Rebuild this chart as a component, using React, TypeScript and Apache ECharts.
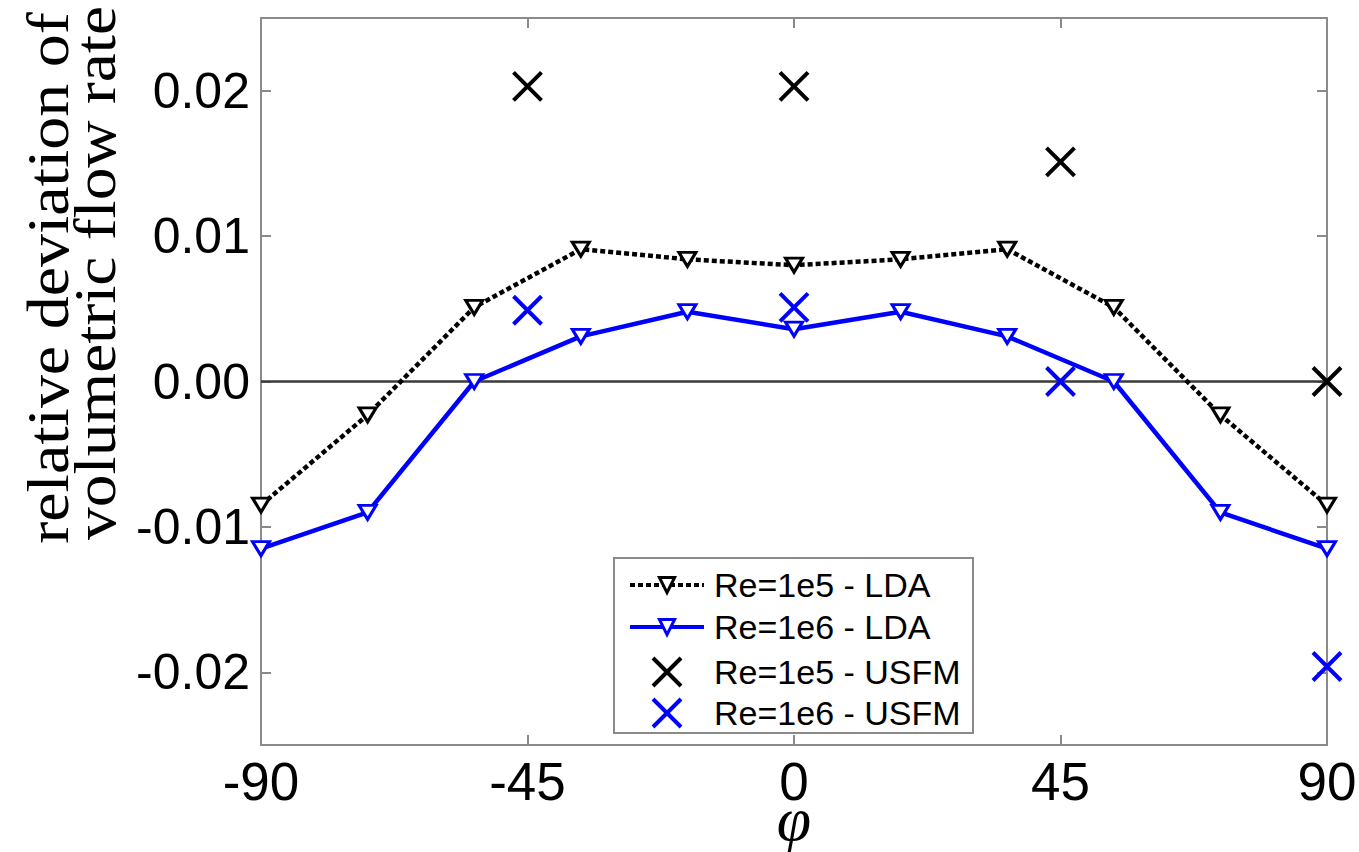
import React, { useEffect, useRef } from "react";
import * as echarts from "echarts";

const angles = [-90, -72, -54, -36, -18, 0, 18, 36, 54, 72, 90];
const ldaRe1e5 = [-0.0085, -0.0023, 0.0051, 0.0091, 0.0084, 0.008, 0.0084, 0.0091, 0.0051, -0.0023, -0.0085];
const ldaRe1e6 = [-0.0115, -0.009, 0.0, 0.0031, 0.0048, 0.0036, 0.0048, 0.0031, 0.0, -0.009, -0.0115];
const usfmAngles = [-45, 0, 45, 90];
const usfmRe1e5 = [0.0203, 0.0203, 0.0151, 0.0];
const usfmRe1e6 = [0.0049, 0.0051, 0.0, -0.0196];
const yTicks = [-0.02, -0.01, 0, 0.01, 0.02];
const names = ["Re=1e5 - LDA", "Re=1e6 - LDA", "Re=1e5 - USFM", "Re=1e6 - USFM"];

const FRAME = "#8a8a8a";
const CROSS = "path://M0,0L20,20M20,0L0,20";
// same cross, padded with zero-length segments so the legend icon keeps its 74x28 slot
const CROSS_LEGEND = "path://M-16.43,10L-16.43,10M0,0L20,20M20,0L0,20M36.43,10L36.43,10";

const pairs = (xs: number[], ys: number[]) => xs.map((x, i) => [x, ys[i]]);

export default function App() {
  const ref = useRef<HTMLDivElement>(null);
  useEffect(() => {
    if (!ref.current) return;
    const chart = echarts.init(ref.current, null, { renderer: "svg" });
    const axisLine = { show: true, onZero: false, lineStyle: { color: FRAME, width: 2 } };
    const axisTick = { show: true, inside: true, length: 10, lineStyle: { color: FRAME, width: 2 } };
    const legendText = { fontSize: 34, fontFamily: "Liberation Sans", color: "#000", lineHeight: 40, padding: [0, 0, 0, 5] };
    const option: any = {
      animation: false,
      backgroundColor: "#fff",
      grid: { left: 261, right: 32, top: 18, bottom: 107, containLabel: false, outerBoundsMode: "none" },
      xAxis: [
        {
          type: "value", min: -90, max: 90, interval: 45, position: "bottom",
          axisLine, axisTick,
          axisLabel: { color: "#000", fontSize: 53, lineHeight: 44, fontFamily: "Liberation Sans", margin: 14 },
          splitLine: { show: false },
          name: "φ", nameLocation: "middle", nameGap: 59, nameMoveOverlap: false,
          nameTextStyle: { color: "#000", fontSize: 62, lineHeight: 30, fontFamily: "Liberation Serif", fontStyle: "italic" },
        },
        {
          type: "value", min: -90, max: 90, interval: 45, position: "top",
          axisLine, axisTick, axisLabel: { show: false }, splitLine: { show: false },
        },
      ],
      yAxis: [
        {
          type: "value", min: -0.025, max: 0.025, position: "left",
          axisLine,
          axisTick: { ...axisTick, customValues: yTicks },
          axisLabel: {
            customValues: yTicks, color: "#000", fontSize: 50, fontFamily: "Liberation Sans", margin: 11,
            formatter: (v: number) => v.toFixed(2),
          },
          splitLine: { show: false },
        },
        {
          type: "value", min: -0.025, max: 0.025, position: "right",
          axisLine,
          axisTick: { ...axisTick, customValues: yTicks },
          axisLabel: { show: false }, splitLine: { show: false },
        },
      ],
      legend: [
        {
          data: [
            { name: names[0], lineStyle: { width: 4 }, itemStyle: { borderWidth: 3 } },
            { name: names[1], lineStyle: { width: 4 }, itemStyle: { borderWidth: 3 } },
          ],
          orient: "vertical", left: 628, top: 565, padding: 0,
          itemWidth: 74, itemHeight: 19, itemGap: 2, selectedMode: false,
          textStyle: legendText,
        },
        {
          data: [
            { name: names[2], icon: CROSS_LEGEND },
            { name: names[3], icon: CROSS_LEGEND },
          ],
          orient: "vertical", left: 628, top: 652, padding: 0,
          itemWidth: 74, itemHeight: 28, itemGap: 1, selectedMode: false,
          symbolKeepAspect: false,
          itemStyle: { borderWidth: 4 },
          textStyle: legendText,
        },
      ],
      graphic: [
        {
          type: "rect", z: 3,
          shape: { x: 614, y: 558, width: 359, height: 175 },
          style: { fill: "#fff", stroke: FRAME, lineWidth: 2 },
        },
        {
          type: "text", x: 48, y: 278, rotation: Math.PI / 2, scaleX: 1.1,
          style: { text: "relative deviation of", fontSize: 60, fontFamily: "Liberation Serif", fill: "#000", align: "center", verticalAlign: "middle" },
        },
        {
          type: "text", x: 95, y: 273, rotation: Math.PI / 2, scaleX: 1.09,
          style: { text: "volumetric flow rate", fontSize: 60, fontFamily: "Liberation Serif", fill: "#000", align: "center", verticalAlign: "middle" },
        },
      ],
      series: [
        {
          name: names[0], type: "line", data: pairs(angles, ldaRe1e5),
          symbol: "triangle", symbolRotate: 180, symbolSize: [17, 14],
          itemStyle: { color: "#fff", borderColor: "#000", borderWidth: 3 },
          lineStyle: { color: "#000", width: 4.5, type: [5, 3] },
          z: 3,
          markLine: {
            silent: true, symbol: "none", label: { show: false },
            lineStyle: { color: "#3a3a3a", width: 2.5, type: "solid" },
            data: [{ yAxis: 0 }],
            z: 1,
          },
        },
        {
          name: names[1], type: "line", data: pairs(angles, ldaRe1e6),
          symbol: "triangle", symbolRotate: 180, symbolSize: [17, 14],
          itemStyle: { color: "#fff", borderColor: "#0000ff", borderWidth: 3 },
          lineStyle: { color: "#0000ff", width: 4.5, type: "solid" },
          z: 3,
        },
        {
          name: names[2], type: "scatter", data: pairs(usfmAngles, usfmRe1e5),
          symbol: CROSS, symbolSize: 28,
          itemStyle: { color: "#000", borderColor: "#000", borderWidth: 4, opacity: 1 },
          z: 4,
        },
        {
          name: names[3], type: "scatter", data: pairs(usfmAngles, usfmRe1e6),
          symbol: CROSS, symbolSize: 28,
          itemStyle: { color: "#0000ff", borderColor: "#0000ff", borderWidth: 4, opacity: 1 },
          z: 4,
        },
      ],
    };
    chart.setOption(option);
    return () => chart.dispose();
  }, []);
  return <div ref={ref} style={{ position: "fixed", left: 0, top: 0, width: 1359, height: 852 }} />;
}
